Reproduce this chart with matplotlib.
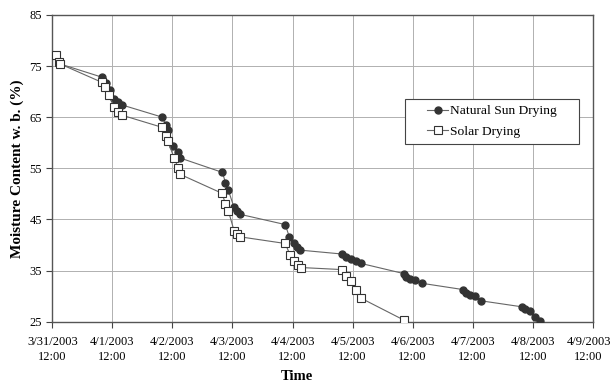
import numpy as np
import pandas as pd
import matplotlib
matplotlib.use('Agg')
import matplotlib.pyplot as plt
import matplotlib.transforms as mtransforms
from matplotlib.patches import Rectangle

# hours after 3/31/2003 12:00 and moisture content (% w.b.)
sun_hours = [1.5, 2.7, 3.2, 20.0, 21.5, 23.0, 24.8, 26.3, 27.8, 44.0, 45.4, 46.2,
             48.4, 50.4, 51.2, 68.0, 69.2, 70.3, 72.6, 73.9, 75.1, 93.1, 94.8,
             96.7, 97.8, 99.1, 115.6, 117.4, 119.4, 121.5, 123.4, 140.6, 141.5,
             143.1, 145.1, 147.9, 164.0, 165.4, 167.1, 169.0, 171.2, 187.9,
             189.1, 190.8, 193.0, 195.1]
sun_mc = [77.2, 75.75, 75.4, 72.8, 71.6, 70.3, 68.6, 68.0, 67.4, 65.0, 63.4, 62.5,
          59.4, 58.1, 57.0, 54.2, 52.2, 50.8, 47.4, 46.6, 46.0, 44.0, 41.5,
          40.3, 39.6, 39.0, 38.25, 37.7, 37.3, 36.9, 36.4, 34.4, 33.8,
          33.4, 33.1, 32.5, 31.3, 30.6, 30.3, 30.0, 29.1, 27.9,
          27.5, 27.1, 25.9, 25.1]

solar_hours = [1.5, 2.7, 3.2, 19.9, 21.2, 22.7, 24.8, 26.3, 27.8, 44.0, 45.4, 46.2,
               48.7, 50.4, 51.2, 67.9, 69.2, 70.4, 72.7, 73.9, 75.1, 93.1, 95.0,
               96.7, 98.3, 99.4, 115.6, 117.4, 119.4, 121.5, 123.4, 140.6]
solar_mc = [77.2, 75.75, 75.4, 71.8, 70.9, 69.3, 66.9, 66.0, 65.4, 63.0, 61.3, 60.3,
            57.0, 55.0, 53.8, 50.1, 48.0, 46.6, 42.7, 42.2, 41.6, 40.3, 38.1,
            36.8, 36.0, 35.6, 35.2, 34.0, 32.9, 31.3, 29.6, 25.3]

start = pd.Timestamp('2003-03-31 12:00')
sun_t = [start + pd.Timedelta(hours=h) for h in sun_hours]
solar_t = [start + pd.Timedelta(hours=h) for h in solar_hours]
tick_days = pd.date_range(start, periods=10, freq='D')

plt.rcParams['font.family'] = 'Liberation Serif'

fig = plt.figure(figsize=(6.12, 3.83), dpi=100)
ax = fig.add_axes([0.0855, 0.160, 0.883, 0.801])

ax.plot(sun_t, sun_mc, color='#666666', lw=0.8, marker='o', ms=5,
        mfc='#333333', mec='#333333', label='Natural Sun Drying', zorder=3)
ax.plot(solar_t, solar_mc, color='#666666', lw=0.8, marker='s', ms=5.5,
        mfc='white', mec='#333333', mew=0.8, label='Solar Drying', zorder=4)

ax.set_xlim(tick_days[0], tick_days[-1])
ax.set_ylim(25, 85)
ax.set_yticks(np.arange(25, 86, 10))
ax.set_xticks(tick_days)
ax.set_xticklabels(['%d/%d/%d\n12:00' % (d.month, d.day, d.year) for d in tick_days],
                   linespacing=1.35)
ax.tick_params(labelsize=9, direction='out', length=4, color='#444444')
ax.tick_params(axis='x', pad=6)
# last label sits at the right edge of the figure
last = ax.get_xticklabels()[-1]
last.set_transform(last.get_transform() + mtransforms.ScaledTranslation(-3/72, 0, fig.dpi_scale_trans))
ax.grid(True, color='#b0b0b0', lw=0.7)
ax.set_axisbelow(True)
for s in ax.spines.values():
    s.set_color('#555555')
    s.set_linewidth(1.0)

ax.set_ylabel('Moisture Content w. b. (%)', fontsize=11, fontweight='bold', labelpad=4)
ax.set_xlabel('Time', fontsize=10.5, fontweight='bold')
ax.xaxis.set_label_coords(0.453, -0.158)

# legend box
ax.add_patch(Rectangle((0.6527, 0.5794), 0.322, 0.1467, transform=ax.transAxes,
                       facecolor='white', edgecolor='#444444', lw=0.8, zorder=5))
leg = ax.legend(loc='center left', bbox_to_anchor=(0.693, 0.6528), fontsize=9.7,
                frameon=False, handlelength=1.6, handletextpad=0.15,
                borderpad=0, borderaxespad=0, labelspacing=0.6)
leg.set_zorder(6)

fig.savefig('out.png', dpi=100)
